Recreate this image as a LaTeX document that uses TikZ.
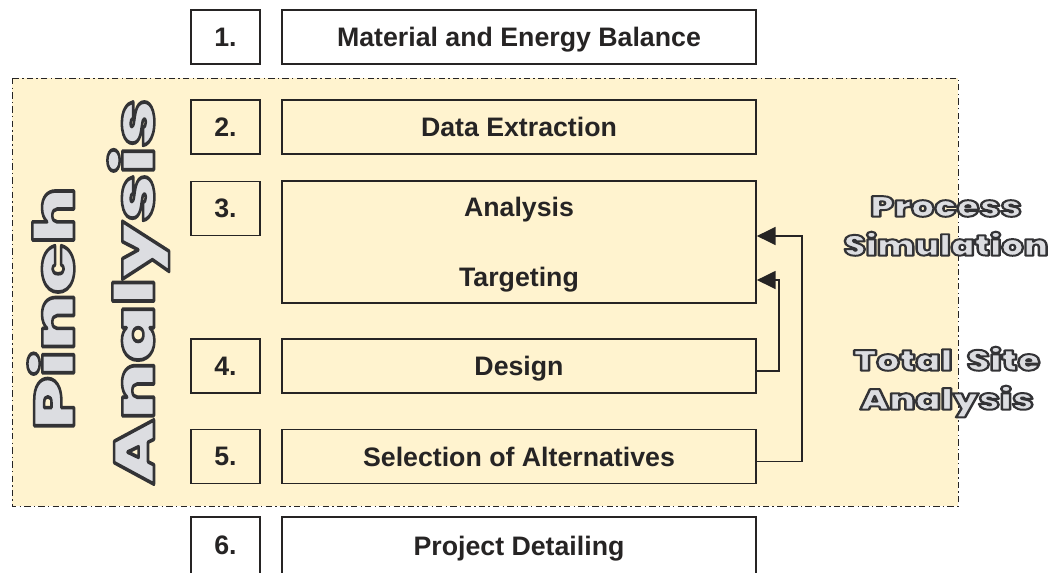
\documentclass[tikz,border=0pt]{standalone}
\usepackage{fontspec}
\setmainfont{Liberation Sans}
\IfFontExistsTF{Poppins Black}
  {\newfontfamily\bigfont{Poppins Black}}
  {\newfontfamily\bigfont{DejaVu Sans Bold}}
\usetikzlibrary{arrows.meta}
\definecolor{cream}{RGB}{255,243,207}
\definecolor{boxline}{RGB}{38,36,36}
\definecolor{olfill}{RGB}{220,221,225}
% gray letters with a dark rim (fill + stroke text mode)
\newcommand\outlined[2][1.4]{\textcolor{olfill}{%
  \special{pdf:literal direct 0.2 0.2 0.21 RG #1 w 1 j 2 Tr}#2%
  \special{pdf:literal direct 0 Tr}}}
\begin{document}
\begin{tikzpicture}[
  x=0.025cm, y=-0.025cm,
  numbox/.style={draw=boxline, line width=1.1pt, fill=cream, inner sep=0pt,
    minimum width=1.725cm, minimum height=1.35cm, text depth=0pt,
    font=\bfseries\fontsize{19}{22}\selectfont, text=boxline},
  stepbox/.style={numbox, minimum width=11.85cm},
  region/.style={fill=cream, draw=boxline, line width=0.7pt,
    dash pattern=on 4.5pt off 2.3pt on 1pt off 2.3pt},
  bigtxt/.style={font=\bigfont\fontsize{40}{40}\selectfont, inner sep=0pt},
  sidetxt/.style={font=\bigfont\fontsize{20.5}{27.7}\selectfont,
    align=center, inner sep=0pt},
  arr/.style={-{Triangle[length=0.47cm, width=0.45cm]}, line width=1.1pt, draw=boxline}
]
\useasboundingbox (0,0) rectangle (1056,572);
\clip (0,0) rectangle (1056,572);
\draw[region] (12,78) rectangle (958,506);

\node[numbox, fill=white] (n1) at (225.5,37) {1.};
\node[stepbox, fill=white] (m1) at (519,37) {Material and Energy Balance};
\node[numbox] (n2) at (225.5,127) {2.};
\node[stepbox] (m2) at (519,127) {Data Extraction};
\node[numbox] (n3) at (225.5,208.5) {3.};
\node[stepbox, minimum height=3.05cm, align=center] (m3) at (519,242)
  {Analysis\\[28pt]Targeting};
\node[numbox] (n4) at (225.5,366) {4.};
\node[stepbox] (m4) at (519,366) {Design};
\node[numbox] (n5) at (225.5,456.5) {5.};
\node[stepbox] (m5) at (519,456.5) {Selection of Alternatives};
\node[numbox, fill=white, minimum height=1.425cm] (n6) at (225.5,545.5) {6.};
\node[stepbox, fill=white, minimum height=1.425cm] (m6) at (519,545.5) {Project Detailing};

\draw[arr] ([yshift=-0.125cm]m5.east) -- ++(1.125cm,0) |- ([yshift=0.15cm]m3.east);
\draw[arr] ([yshift=-0.125cm]m4.east) -- ++(0.55cm,0) |- ([yshift=-0.95cm]m3.east);

\node[bigtxt, rotate=90, anchor=base] (pinch) at (74,308.5)
  {\scalebox{1.45}[1]{\outlined[1.8]{Pinch}}};
\node[bigtxt, rotate=90, anchor=base] (analysis) at (154,291.5)
  {\scalebox{1.48}[1]{\outlined[1.8]{Analysis}}};
\node[sidetxt] (procsim) at (946,226)
  {\scalebox{1.27}[1]{\outlined{Process}}\\\scalebox{1.22}[1]{\outlined{Simulation}}};
\node[sidetxt] (totsite) at (947,382)
  {\scalebox{1.27}[1]{\outlined{Total\hspace{0.4em}Site}}\\\scalebox{1.3}[1]{\outlined{Analysis}}};
\end{tikzpicture}
\end{document}
